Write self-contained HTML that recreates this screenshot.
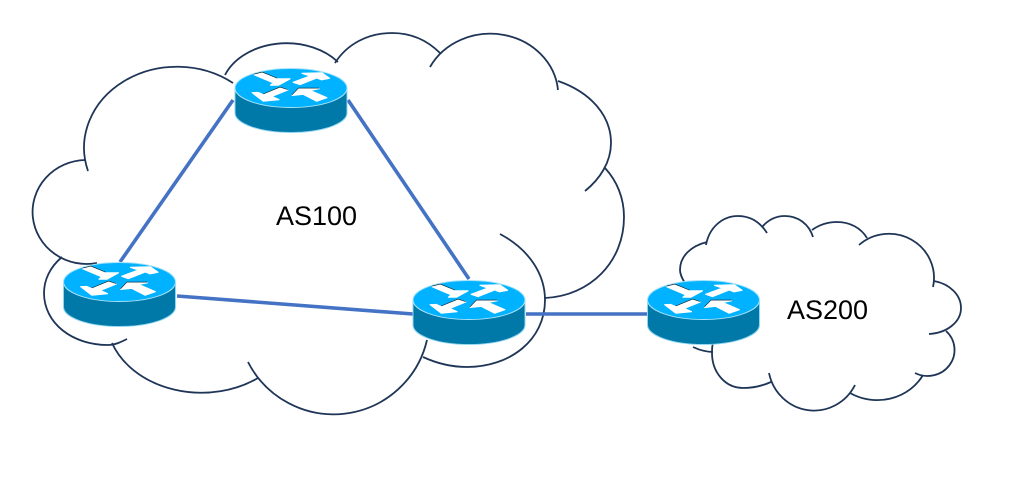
<!DOCTYPE html>
<html>
<head>
<meta charset="utf-8">
<style>
html,body{margin:0;padding:0;background:#fff;width:1022px;height:489px;overflow:hidden}
svg{display:block}
text{font-family:"Liberation Sans",sans-serif;font-size:27px;fill:#000}
</style>
</head>
<body>
<svg width="1022" height="489" viewBox="0 0 1022 489" xmlns="http://www.w3.org/2000/svg">
<defs>
<g id="r">
<path d="M-56,0 V25 A56,19.5 0 0 0 56,25 V0 Z" fill="#0078a8" stroke="#8fd6f0" stroke-width="1"/>
<ellipse cx="0" cy="0" rx="56" ry="19.5" fill="#00b2ff" stroke="#a5e2f7" stroke-width="1"/>
<g fill="#fff" stroke="#fff" stroke-width="1.2" stroke-linejoin="round">
<polygon points="-36.7,-13.2 -28.8,-15.2 -14,-9.2 -1,-9.2 -12.7,-2.8 -20.5,-2.8 -17.7,-5.2"/>
<polygon points="38.5,-9.7 30.7,-15.2 11,-14.7 19,-12 2.2,-5.7 9,-3.4 25.7,-10 30.5,-8.2"/>
<polygon points="-38.8,4.7 -27.7,13.2 -12,11.7 -19.3,8.4 -3.2,2 -11,-0.2 -27.7,6.7 -32.7,4.5"/>
<polygon points="35.8,9.7 25.7,13.2 12.3,6.3 1.2,7.4 7.5,0.8 28,0.8 19,2.4"/>
</g>
<g fill="none" stroke="#0a1a22" stroke-width="0.6">
<polyline points="-36.7,-13.9 -28.8,-15.9 -14,-9.9"/>
<polyline points="-27.7,6 -11,-0.9 -3.2,1.6"/>
<polyline points="1,6.8 7.5,0.1 28,0.1"/>
</g>
</g>
</defs>

<g fill="none" stroke="#1f3557" stroke-width="1.8">
<path d="M88,171 A93,81 0 0 1 233,83"/>
<path d="M97,263 A54,52 0 1 1 85,160"/>
<path d="M62,257 C50,267 44,280 44,293 C44,323 72,345 108,345 C115,345 121,342 127,339"/>
<path d="M112,343 A95,75 0 0 0 258,378"/>
<path d="M248,362 A96,96 0 0 0 427,340"/>
<path d="M225,75 A66,50 0 0 1 338,62"/>
<path d="M335,63 C347,44 368,33 392,33 C412,33 428,41 440,53"/>
<path d="M430,67 A68,62 0 0 1 558,90"/>
<path d="M558,81 C590,92 611,115 611,143 C611,162 600,179 585,191"/>
<path d="M605,168 C617,181 624,198 624,217 C624,262 590,296 545,298"/>
<path d="M500,234 C530,250 545,275 545,300 C545,340 510,367 467,367 C450,367 436,363 423,357"/>

<path d="M685,283 C681,277 680,272 680,270 C680,256 691,246 707,242"/>
<path d="M706,245 C709,228 722,216 738,216 C750,216 760,222 767,233"/>
<path d="M762,227 C768,220 776,216 785,216 C798,216 809,224 813,237"/>
<path d="M812,230 C819,225 828,222 837,222 C850,222 861,228 867,238"/>
<path d="M859,245 A45,44 0 0 1 933,287"/>
<path d="M934,281 C950,284 961,295 961,308 C961,322 947,333 929,334"/>
<path d="M946,331 A27,26 0 0 1 915,373"/>
<path d="M923,375 A52,48 0 0 1 850,393"/>
<path d="M855,385 A46,47 0 0 1 769,373"/>
<path d="M771,382 C762,386 752,388 743,388 C725,388 712,372 712,353 C712,350 712,346 713,343"/>
<path d="M713,352 A50,50 0 0 1 693,347"/>
</g>

<g stroke="#4472c4" stroke-width="3.6" fill="none">
<line x1="233" y1="100" x2="120" y2="262"/>
<line x1="177" y1="296" x2="413" y2="314"/>
<line x1="348" y1="100" x2="469" y2="279"/>
<line x1="526" y1="314" x2="648" y2="314"/>
</g>

<use href="#r" x="291" y="88"/>
<use href="#r" x="119.5" y="282"/>
<use href="#r" x="469" y="300"/>
<use href="#r" x="703.5" y="300"/>

<text x="276" y="225">AS100</text>
<text x="787" y="319">AS200</text>
</svg>
</body>
</html>
